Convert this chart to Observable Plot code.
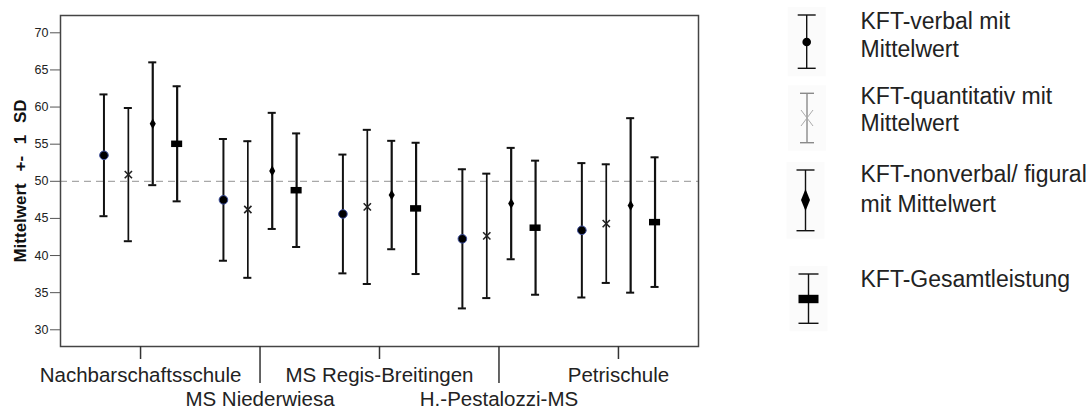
<!DOCTYPE html>
<html>
<head>
<meta charset="utf-8">
<script src="https://cdn.jsdelivr.net/npm/d3@7"></script>
<script src="https://cdn.jsdelivr.net/npm/@observablehq/plot@0.6"></script>
<style>
  html, body { margin: 0; padding: 0; background: #fff; }
  #wrap { position: relative; width: 1092px; height: 409px; overflow: hidden; font-family: "Liberation Sans", Arial, sans-serif; }
  .layer { position: absolute; left: 0; top: 0; }
  #legend { position: absolute; left: 0; top: 0; pointer-events: none; }
</style>
</head>
<body>
<div id="wrap"><div id="back" class="layer"></div><div id="front" class="layer"></div><svg id="legend" width="1092" height="409"></svg></div>
<script>
// ---- data ----
const schools = ["Nachbarschaftsschule", "MS Niederwiesa", "MS Regis-Breitingen", "H.-Pestalozzi-MS", "Petrischule"];
const seriesNames = ["KFT-verbal", "KFT-quantitativ", "KFT-nonverbal/ figural", "KFT-Gesamtleistung"];
const verbalMean    = [53.5, 47.5, 45.6, 42.25, 43.4];
const verbalSD      = [8.2, 8.2, 8.0, 9.37, 9.05];
const quantMean     = [50.9, 46.2, 46.55, 42.65, 44.3];
const quantSD       = [8.97, 9.2, 10.38, 8.38, 7.99];
const nonverbalMean = [57.75, 51.4, 48.15, 47.0, 46.75];
const nonverbalSD   = [8.27, 7.82, 7.3, 7.5, 11.75];
const gesamtMean    = [55.05, 48.8, 46.35, 43.75, 44.5];
const gesamtSD      = [7.75, 7.65, 8.84, 9.03, 8.73];
const yTicks = [30, 35, 40, 45, 50, 55, 60, 65, 70];
const refLine = [50];
const yTitle = "Mittelwert +- 1 SD";
const legendLabels = [
  ["KFT-verbal mit", "Mittelwert"],
  ["KFT-quantitativ mit", "Mittelwert"],
  ["KFT-nonverbal/ figural", "mit Mittelwert"],
  ["KFT-Gesamtleistung"]
];

// ---- table ----
const means = [verbalMean, quantMean, nonverbalMean, gesamtMean];
const sds = [verbalSD, quantSD, nonverbalSD, gesamtSD];
const rows = [];
seriesNames.forEach((s, i) => schools.forEach((sc, j) => {
  rows.push({school: sc, series: s, mean: means[i][j], low: means[i][j] - sds[i][j], high: means[i][j] + sds[i][j]});
}));
const bySeries = s => rows.filter(d => d.series === s);
const lineW = {"KFT-verbal": 2, "KFT-quantitativ": 1.7, "KFT-nonverbal/ figural": 2.2, "KFT-Gesamtleistung": 2.2};

const common = {
  width: 720, height: 409,
  marginLeft: 60, marginRight: 22, marginTop: 15, marginBottom: 63,
  y: {domain: [27.75, 72.33], axis: null}
};
const font = "'Liberation Sans', Arial, sans-serif";

// back layer: frame, reference line, y axis, y title
const back = Plot.plot({
  ...common,
  style: {fontFamily: font, background: "#fff", color: "#222"},
  x: {axis: null},
  marks: [
    Plot.ruleY(refLine, {stroke: "#a8a8a8", strokeWidth: 1.2, strokeDasharray: "7,5"}),
    Plot.frame({stroke: "#444", strokeWidth: 1.5}),
    Plot.axisY({ticks: yTicks, tickSize: 10, tickPadding: 2, fontSize: 12.5, label: null, stroke: "#555"}),
    Plot.text([yTitle], {frameAnchor: "left", textAnchor: "middle", dx: -40, rotate: -90, fontWeight: "bold", fontSize: 17, fill: "#111"})
  ]
});
document.getElementById("back").appendChild(back);
d3.select(back).selectAll("text").filter(function() { return this.textContent === yTitle; }).style("word-spacing", "7px");

// front layer: faceted error bars + school axis
const front = Plot.plot({
  ...common,
  style: {fontFamily: font, background: "transparent", color: "#222"},
  fx: {domain: schools, paddingInner: 0.2, paddingOuter: 0.27, round: false, label: null, axis: null},
  x: {domain: seriesNames, paddingInner: 0.67, paddingOuter: 0.294, round: false, axis: null},
  marks: [
    Plot.ruleX(rows, {fx: "school", x: "series", y1: "low", y2: "high", stroke: "#111", strokeWidth: d => lineW[d.series]}),
    Plot.tickY(rows, {fx: "school", x: "series", y: "low", stroke: "#111", strokeWidth: 2}),
    Plot.tickY(rows, {fx: "school", x: "series", y: "high", stroke: "#111", strokeWidth: 2}),
    Plot.dot(bySeries("KFT-verbal"), {fx: "school", x: "series", y: "mean", r: 4.3, fill: "#000", stroke: "#3a4c9c", strokeWidth: 1}),
    Plot.dot(bySeries("KFT-quantitativ"), {fx: "school", x: "series", y: "mean", symbol: "times", r: 3.4, stroke: "#222", strokeWidth: 1.6}),
    Plot.dot(bySeries("KFT-nonverbal/ figural"), {fx: "school", x: "series", y: "mean", symbol: "diamond", r: 3.2, fill: "#000"}),
    Plot.tickY(bySeries("KFT-Gesamtleistung"), {fx: "school", x: "series", y: "mean", stroke: "#000", strokeWidth: 6.5, insetLeft: -1.5, insetRight: -1.5}),
    Plot.axisFx({anchor: "bottom", ticks: schools.filter((d, i) => i % 2 === 0), tickSize: 13, tickPadding: 8.4, fontSize: 20.5, label: null, strokeWidth: 1.5, stroke: "#333", fill: "#222"}),
    Plot.axisFx({anchor: "bottom", ticks: schools.filter((d, i) => i % 2 === 1), tickSize: 37, tickPadding: 7.5, fontSize: 20.5, label: null, strokeWidth: 1.5, stroke: "#333", fill: "#222"})
  ]
});
document.getElementById("front").appendChild(front);

// ---- legend ----
const lg = d3.select("#legend");
const items = [
  {cx: 806.7, top: 15, bottom: 68.3, cap: 9, color: "#111", kind: "circle", my: 42, lines: [29, 57]},
  {cx: 807, top: 93.3, bottom: 142.7, cap: 7, color: "#8a8a8a", kind: "times", my: 118, lines: [103.5, 130.5]},
  {cx: 805.5, top: 170, bottom: 230.7, cap: 9, color: "#111", kind: "diamond", my: 200, lines: [181.7, 211.5]},
  {cx: 808.5, top: 274, bottom: 323.3, cap: 10, color: "#111", kind: "rect", my: 299, lines: [286.7]}
];
items.forEach((it, i) => {
  const g = lg.append("g");
  g.append("rect").attr("x", it.cx - 19).attr("y", it.top - 8).attr("width", 38).attr("height", it.bottom - it.top + 16).attr("fill", "#fbfbfb");
  g.append("line").attr("x1", it.cx).attr("x2", it.cx).attr("y1", it.top).attr("y2", it.bottom).attr("stroke", it.color).attr("stroke-width", 1.4);
  [it.top, it.bottom].forEach(y => g.append("line").attr("x1", it.cx - it.cap).attr("x2", it.cx + it.cap).attr("y1", y).attr("y2", y).attr("stroke", it.color).attr("stroke-width", 1.4));
  if (it.kind === "circle") g.append("circle").attr("cx", it.cx).attr("cy", it.my).attr("r", 4.3).attr("fill", "#000");
  if (it.kind === "times") {
    g.append("line").attr("x1", it.cx - 6).attr("x2", it.cx + 6).attr("y1", it.my - 8).attr("y2", it.my + 8).attr("stroke", "#aaa").attr("stroke-width", 1);
    g.append("line").attr("x1", it.cx + 6).attr("x2", it.cx - 6).attr("y1", it.my - 8).attr("y2", it.my + 8).attr("stroke", "#aaa").attr("stroke-width", 1);
  }
  if (it.kind === "diamond") g.append("path").attr("d", `M${it.cx},${it.my - 11}L${it.cx + 4.5},${it.my}L${it.cx},${it.my + 11}L${it.cx - 4.5},${it.my}Z`).attr("fill", "#000");
  if (it.kind === "rect") g.append("rect").attr("x", it.cx - 10).attr("y", it.my - 4.2).attr("width", 20).attr("height", 8.4).attr("fill", "#000");
  legendLabels[i].forEach((t, k) => {
    lg.append("text").attr("x", 860.5).attr("y", it.lines[k]).attr("font-size", 23).attr("fill", "#222")
      .attr("font-family", font).text(t);
  });
});
</script>
</body>
</html>
